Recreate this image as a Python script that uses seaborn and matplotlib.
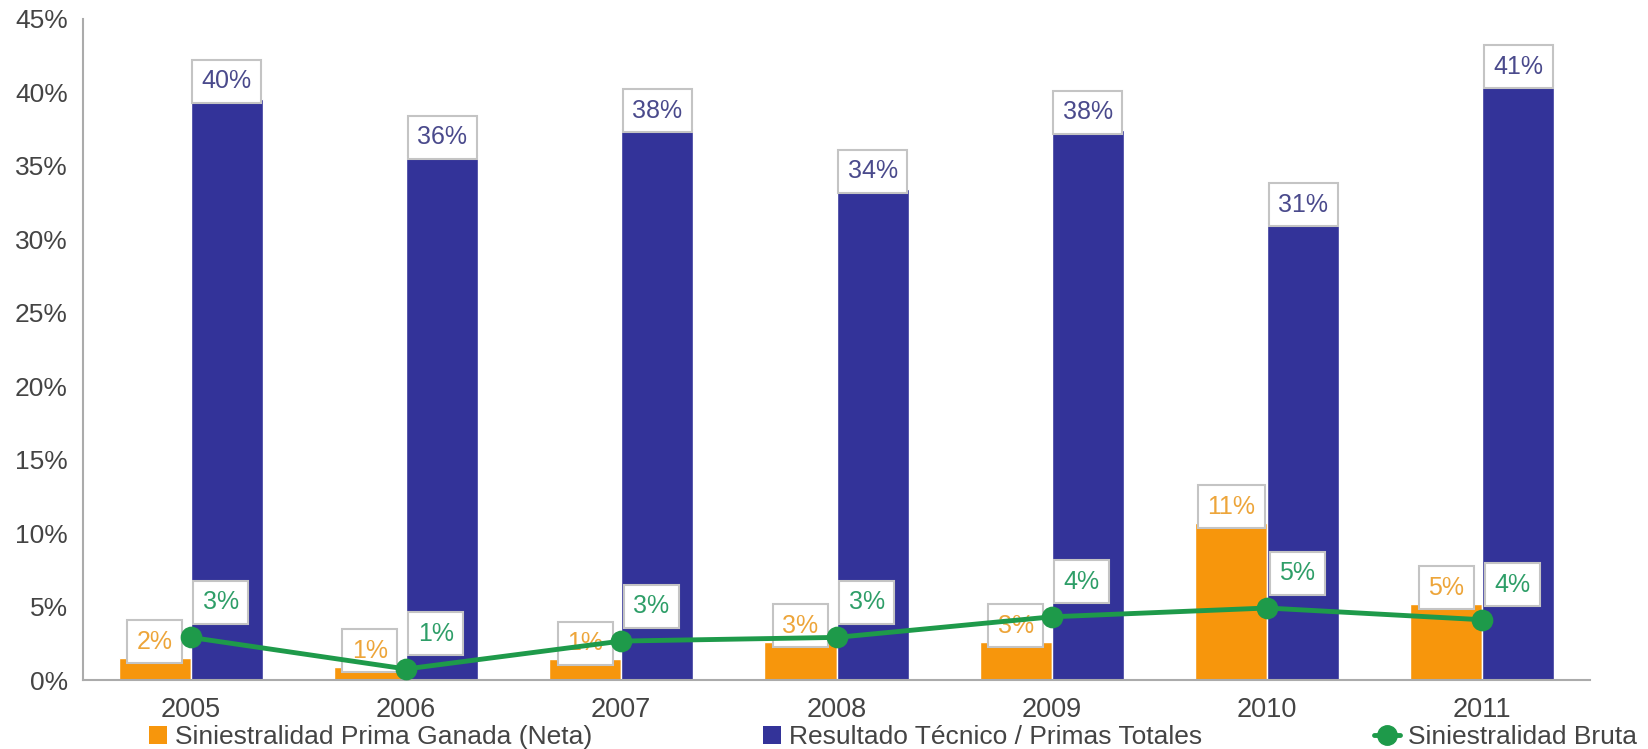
import pandas as pd
import matplotlib
matplotlib.use("Agg")
import matplotlib.pyplot as plt
import seaborn as sns
from matplotlib.patches import Patch
from matplotlib.lines import Line2D

# data
years = ["2005", "2006", "2007", "2008", "2009", "2010", "2011"]
prima_neta = [1.5, 0.9, 1.4, 2.6, 2.6, 10.7, 5.2]
resultado_tecnico = [39.5, 35.7, 37.5, 33.4, 37.4, 31.1, 40.5]
bruta = [2.9, 0.75, 2.65, 2.9, 4.3, 4.9, 4.1]
lbl_neta = ["2%", "1%", "1%", "3%", "3%", "11%", "5%"]
lbl_tecnico = ["40%", "36%", "38%", "34%", "38%", "31%", "41%"]
lbl_bruta = ["3%", "1%", "3%", "3%", "4%", "5%", "4%"]
series = ["Siniestralidad Prima Ganada (Neta)", "Resultado Técnico / Primas Totales",
          "Siniestralidad Bruta"]

ORANGE = "#F7960C"
BLUE = "#333399"
GREEN = "#1E9A4A"
GREY = "#ABABAB"

sns.set_style("white")
plt.rcParams["font.family"] = ["Liberation Sans", "DejaVu Sans"]

df = pd.DataFrame({
    "year": years * 2,
    "value": prima_neta + resultado_tecnico,
    "serie": [series[0]] * 7 + [series[1]] * 7,
})

fig = plt.figure(figsize=(16.48, 7.49), dpi=100)
ax = fig.add_axes([0.0504, 0.0921, 0.9144, 0.883])

sns.barplot(data=df, x="year", y="value", hue="serie", palette=[ORANGE, BLUE],
            width=0.67, saturation=1, legend=False, ax=ax, zorder=2)
sns.pointplot(x=years, y=bruta, color=GREEN, markers="o", markersize=13,
              linewidth=3.5, errorbar=None, ax=ax, zorder=4)

box = dict(boxstyle="square,pad=0.38", fc="white", ec="#C4C4C4", lw=1.5)
bw = 0.67 / 2
for i in range(len(years)):
    ax.annotate(lbl_neta[i], xy=(i - bw / 2, prima_neta[i]), xytext=(0, 4),
                textcoords="offset pixels", ha="center", va="bottom",
                fontsize=18, color="#EDA53A", bbox=box, zorder=3)
    ax.annotate(lbl_tecnico[i], xy=(i + bw / 2, resultado_tecnico[i]), xytext=(0, 6),
                textcoords="offset pixels", ha="center", va="bottom",
                fontsize=18, color="#4A4A8C", bbox=box, zorder=3)
    ax.annotate(lbl_bruta[i], xy=(i, bruta[i]), xytext=(12, 23),
                textcoords="offset pixels", ha="left", va="bottom",
                fontsize=18, color="#2E9E68", bbox=box, zorder=5)

ax.set_xlim(-0.5, 6.5)
ax.set_ylim(0, 45)
ax.set_yticks(range(0, 50, 5))
ax.set_yticklabels([f"{v}%" for v in range(0, 50, 5)])
ax.set_xticks([i - 0.5 for i in range(8)])
ax.set_xticklabels([])
ax.set_xticks(range(7), minor=True)
ax.set_xticklabels(years, minor=True)
ax.set_xlabel("")
ax.set_ylabel("")

sns.despine(ax=ax)
for s in ["left", "bottom"]:
    ax.spines[s].set_color(GREY)
    ax.spines[s].set_linewidth(1.5)
ax.tick_params(axis="y", direction="inout", length=14, width=1.5, color=GREY,
               labelsize=19, labelcolor="#444444", pad=4)
ax.tick_params(axis="x", which="major", direction="inout", length=16, width=1.5, color=GREY)
ax.tick_params(axis="x", which="minor", length=0, labelsize=19.5, labelcolor="#444444", pad=12)

# legend entries spread along the bottom
handles = [
    Patch(facecolor=ORANGE, edgecolor="none"),
    Patch(facecolor=BLUE, edgecolor="none"),
    Line2D([], [], color=GREEN, marker="o", markersize=14, lw=3.5),
]
xs = [149 / 1648, 763 / 1648, 1374 / 1648]
for h, name, x0, hl in zip(handles, series, xs, [0.7, 0.7, 1.0]):
    fig.legend([h], [name], loc="center left", bbox_to_anchor=(x0, 12 / 749),
               frameon=False, fontsize=19, handlelength=hl, handleheight=0.7,
               handletextpad=0.3, borderpad=0, borderaxespad=0,
               labelcolor="#444444")

fig.savefig("out.png", dpi=100)
